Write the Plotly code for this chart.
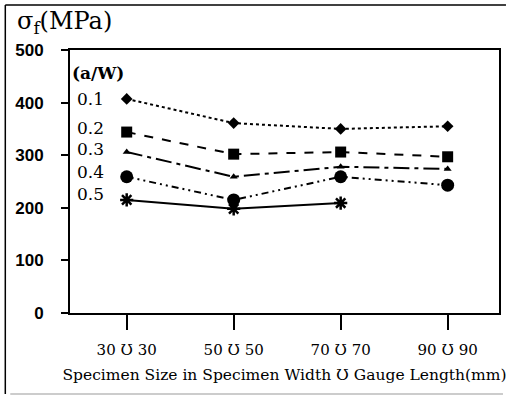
import plotly.graph_objects as go

sizes = ["30 Ʊ 30", "50 Ʊ 50", "70 Ʊ 70", "90 Ʊ 90"]
ratios = ["0.1", "0.2", "0.3", "0.4", "0.5"]
s01 = [407, 361, 350, 355]
s02 = [344, 302, 306, 297]
s03 = [306, 259, 278, 274]
s04 = [259, 215, 259, 243]
s05 = [215, 198, 209]
series = [s01, s02, s03, s04, s05]
yticks = [0, 100, 200, 300, 400, 500]

symbols = ["diamond", "square", "triangle-up", "circle", "asterisk-open"]
msizes = [9, 11, 7, 13, 11]
dashes = ["dot", "dash", "16px,5px,4px,5px", "7px,4px,2px,4px,2px,4px", "solid"]
label_shift = [0, 4, 3, 5, 6]

SERIF = "DejaVu Serif"

fig = go.Figure()
for i, (r, vals) in enumerate(zip(ratios, series)):
    xs = list(range(len(vals)))
    fig.add_trace(go.Scatter(
        x=xs, y=vals, mode="lines+markers", name=r,
        line=dict(color="black", width=2, dash=dashes[i]),
        marker=dict(symbol=symbols[i], size=msizes[i], color="black",
                    line=dict(color="black", width=2.5 if i == 4 else 0)),
        showlegend=False,
    ))
    fig.add_annotation(x=0, y=vals[0], xref="x", yref="y", text=r,
                       showarrow=False, xanchor="right", xshift=-21,
                       yshift=label_shift[i],
                       font=dict(family=SERIF, size=17, color="black"))

fig.add_annotation(x=0.0, y=(313 - 73) / 263, xref="paper", yref="paper",
                   text="<b>(a/W)</b>", showarrow=False, xanchor="left", yanchor="middle",
                   font=dict(family=SERIF, size=17, color="black"))
fig.add_annotation(x=(15 - 70) / 431, y=(313 - 23) / 263, xref="paper", yref="paper",
                   text="σ<sub>f</sub>(MPa)", showarrow=False, xanchor="left", yanchor="middle",
                   font=dict(family=SERIF, size=24, color="black"))

# outer frame lines
fig.add_shape(type="line", xref="paper", yref="paper",
              x0=(5 - 70) / 431, x1=(508 - 70) / 431, y0=(313 - 5) / 263, y1=(313 - 5) / 263,
              line=dict(color="black", width=1.5))
fig.add_shape(type="line", xref="paper", yref="paper",
              x0=(5 - 70) / 431, x1=(5 - 70) / 431, y0=(313 - 5) / 263, y1=(313 - 394) / 263,
              line=dict(color="black", width=1.5))
fig.add_shape(type="line", xref="paper", yref="paper",
              x0=(10 - 70) / 431, x1=(505 - 70) / 431, y0=(313 - 394) / 263, y1=(313 - 394) / 263,
              line=dict(color="#bbbbbb", width=1.5))

fig.update_layout(
    width=508, height=396,
    margin=dict(l=70, r=7, t=50, b=83),
    paper_bgcolor="white", plot_bgcolor="white",
    xaxis=dict(
        range=[-0.53, 3.48], tickmode="array", tickvals=list(range(len(sizes))),
        ticktext=sizes, ticks="outside", ticklen=15, tickwidth=2, tickcolor="black",
        showline=True, linecolor="black", linewidth=2, mirror=True, showgrid=False,
        zeroline=False, ticklabelstandoff=7,
        tickfont=dict(family=SERIF, size=15, color="black"),
        title=dict(text="Specimen Size in Specimen Width Ʊ Gauge Length(mm)",
                   font=dict(family=SERIF, size=15.5, color="black"), standoff=11),
    ),
    yaxis=dict(
        range=[0, 500], tickmode="array", tickvals=yticks,
        ticks="outside", ticklen=7, tickwidth=1.5, tickcolor="black",
        showline=True, linecolor="black", linewidth=2, mirror=True, showgrid=False,
        zeroline=False, ticklabelstandoff=14,
        tickfont=dict(family="Liberation Sans", size=17, color="black", weight="bold"),
    ),
)

fig.write_html("out.html")
